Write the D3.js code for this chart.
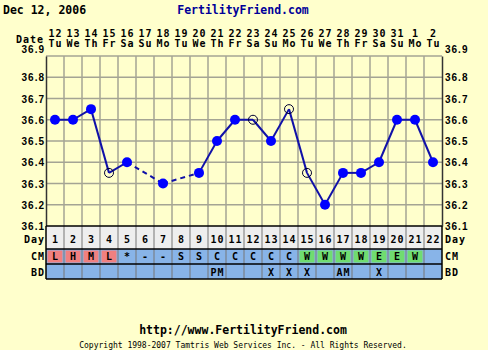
<!DOCTYPE html>
<html>
<head>
<meta charset="utf-8">
<script src="https://cdn.jsdelivr.net/npm/d3@7/dist/d3.min.js"></script>
<style>
  html, body { margin: 0; padding: 0; background: #ffffcc; }
  svg { display: block; font-family: "DejaVu Sans Mono", monospace; font-weight: bold; }
  .px { font-size: 10px; letter-spacing: 1px; }
</style>
</head>
<body>
<div id="chart"></div>
<script>
var days = d3.range(1, 23);
var dateNums = [12, 13, 14, 15, 16, 17, 18, 19, 20, 21, 22, 23, 24, 25, 26, 27, 28, 29, 30, 31, 1, 2];
var weekDays = ["Tu", "We", "Th", "Fr", "Sa", "Su", "Mo", "Tu", "We", "Th", "Fr", "Sa", "Su", "Mo", "Tu", "We", "Th", "Fr", "Sa", "Su", "Mo", "Tu"];
var temps = [36.6, 36.6, 36.65, 36.35, 36.4, null, 36.3, null, 36.35, 36.5, 36.6, 36.6, 36.5, 36.65, 36.35, 36.2, 36.35, 36.35, 36.4, 36.6, 36.6, 36.4];
var discarded = [4, 12, 14, 15];
var cm = ["L", "H", "M", "L", "*", "-", "-", "S", "S", "C", "C", "C", "C", "C", "W", "W", "W", "W", "E", "E", "W", ""];
var bd = ["", "", "", "", "", "", "", "", "", "PM", "", "", "X", "X", "X", "", "AM", "", "X", "", "", ""];
var yTicks = [36.1, 36.2, 36.3, 36.4, 36.5, 36.6, 36.7, 36.8, 36.9];

var W = 488, H = 350;
var plotLeft = 46, plotRight = 442, plotTop = 56, plotBottom = 226;
var dayRow = [226, 249], cmRow = [249, 264], bdRow = [264, 279];

var svg = d3.select("#chart").append("svg")
  .attr("width", W)
  .attr("height", H);

svg.append("rect").attr("width", W).attr("height", H).attr("fill", "#ffffcc");

var x = d3.scaleBand().domain(days).range([plotLeft, plotRight]).paddingInner(0).paddingOuter(0);
var bw = x.bandwidth();
var cx = function (d) { return x(d) + bw / 2 + 0.5; }; // +0.5 offsets trailing letter-spacing
var y = d3.scaleLinear().domain([36.1, 36.9]).range([plotBottom, plotTop]);

// title
svg.append("text").attr("x", 3).attr("y", 14).attr("font-size", 11.5).attr("fill", "#000")
  .text("Dec 12, 2006");
svg.append("text").attr("x", 243).attr("y", 14).attr("font-size", 11.5).attr("fill", "#000099")
  .attr("text-anchor", "middle").text("FertilityFriend.com");

// header dates
svg.append("text").attr("class", "px").attr("x", 44).attr("y", 43).attr("text-anchor", "end").text("Date");
var head = svg.append("g").attr("class", "px").attr("text-anchor", "middle");
head.selectAll(".dn").data(days).enter().append("text")
  .attr("x", cx).attr("y", 37)
  .text(function (d, i) { return dateNums[i]; });
head.selectAll(".wd").data(days).enter().append("text")
  .attr("x", cx).attr("y", 46.5)
  .text(function (d, i) { return weekDays[i]; });

// grid
var grid = svg.append("g").attr("stroke", "#a4a494").attr("stroke-width", 1.5);
grid.selectAll(".h").data(yTicks.slice(1)).enter().append("line")
  .attr("x1", plotLeft).attr("x2", plotRight)
  .attr("y1", function (d) { return y(d); }).attr("y2", function (d) { return y(d); });
grid.selectAll(".v").data(days.slice(1)).enter().append("line")
  .attr("x1", function (d) { return x(d); }).attr("x2", function (d) { return x(d); })
  .attr("y1", plotTop).attr("y2", plotBottom);

// axes
var yAxisL = d3.axisLeft(y).tickValues(yTicks).tickSize(0).tickPadding(2).tickFormat(d3.format(".1f"));
var yAxisR = d3.axisRight(y).tickValues(yTicks).tickSize(0).tickPadding(3).tickFormat(d3.format(".1f"));
var gl = svg.append("g").attr("transform", "translate(" + plotLeft + ",0)").call(yAxisL);
var gr = svg.append("g").attr("transform", "translate(" + plotRight + ",0)").call(yAxisR);
[gl, gr].forEach(function (g) {
  g.select(".domain").attr("stroke", "#333").attr("stroke-width", 1.5);
  g.selectAll("text").attr("class", "px").attr("font-size", null).attr("font-family", null)
    .attr("fill", "#000").attr("dy", function (d) { return d === 36.9 ? "-0.4em" : "0.35em"; });
});
gl.selectAll("text").attr("x", -1);

// table rows
var table = svg.append("g");
table.append("rect").attr("x", plotLeft).attr("y", dayRow[0]).attr("width", plotRight - plotLeft).attr("height", dayRow[1] - dayRow[0]).attr("fill", "#eeeeee");
table.append("rect").attr("x", plotLeft).attr("y", cmRow[0]).attr("width", plotRight - plotLeft).attr("height", bdRow[1] - cmRow[0]).attr("fill", "#88b4e8");

var cmColor = function (c, i) {
  if (i < 4) return "#f08080";
  if (c === "W" || c === "E") return "#70dc70";
  return null;
};
table.selectAll(".cmc").data(days.filter(function (d, i) { return cmColor(cm[i], i); })).enter().append("rect")
  .attr("x", function (d) { return x(d) + 1.5; })
  .attr("y", cmRow[0] + 1.5)
  .attr("width", bw - 3).attr("height", cmRow[1] - cmRow[0] - 3)
  .attr("fill", function (d) { return cmColor(cm[d - 1], d - 1); });

table.selectAll(".tv").data(days.slice(1)).enter().append("line")
  .attr("x1", function (d) { return x(d); }).attr("x2", function (d) { return x(d); })
  .attr("y1", dayRow[0]).attr("y2", bdRow[1])
  .attr("stroke", "#777").attr("stroke-width", 1);
table.selectAll(".th").data([dayRow[0], cmRow[0], bdRow[0], bdRow[1]]).enter().append("line")
  .attr("x1", plotLeft).attr("x2", plotRight)
  .attr("y1", function (d) { return d; }).attr("y2", function (d) { return d; })
  .attr("stroke", "#000").attr("stroke-width", 1.5);
table.append("line").attr("x1", plotLeft).attr("x2", plotLeft).attr("y1", dayRow[0]).attr("y2", bdRow[1]).attr("stroke", "#000").attr("stroke-width", 1.5);
table.append("line").attr("x1", plotRight).attr("x2", plotRight).attr("y1", dayRow[0]).attr("y2", bdRow[1]).attr("stroke", "#000").attr("stroke-width", 1.5);

var rowText = table.append("g").attr("class", "px").attr("text-anchor", "middle");
rowText.selectAll(".dy").data(days).enter().append("text")
  .attr("x", cx).attr("y", 243).text(function (d) { return d; });
rowText.selectAll(".cm").data(days).enter().append("text")
  .attr("x", cx).attr("y", 260).text(function (d, i) { return cm[i]; });
rowText.selectAll(".bd").data(days).enter().append("text")
  .attr("x", cx).attr("y", 275.5).text(function (d, i) { return bd[i]; });

var rowLabels = [["Day", 243], ["CM", 260], ["BD", 275.5]];
table.selectAll(".rl").data(rowLabels).enter().append("text")
  .attr("class", "px")
  .attr("x", 45).attr("y", function (d) { return d[1]; })
  .attr("text-anchor", "end").text(function (d) { return d[0]; });
table.selectAll(".rr").data(rowLabels).enter().append("text")
  .attr("class", "px")
  .attr("x", 445).attr("y", function (d) { return d[1]; })
  .text(function (d) { return d[0]; });

// temperature line
var pts = days.map(function (d, i) { return { day: d, t: temps[i], open: discarded.indexOf(d) >= 0 }; })
  .filter(function (p) { return p.t !== null; });
var segs = [];
for (var i = 1; i < pts.length; i++) {
  segs.push({ a: pts[i - 1], b: pts[i], gap: pts[i].day - pts[i - 1].day > 1 });
}
var lx = function (p) { return x(p.day) + bw / 2; };
var line = d3.line().x(lx).y(function (p) { return y(p.t); });
svg.append("g").selectAll("path").data(segs).enter().append("path")
  .attr("d", function (s) { return line([s.a, s.b]); })
  .attr("fill", "none")
  .attr("stroke", "#1010a8")
  .attr("stroke-width", 2)
  .attr("stroke-dasharray", function (s) { return s.gap ? "5,4" : null; });

svg.append("g").selectAll("circle").data(pts).enter().append("circle")
  .attr("cx", lx)
  .attr("cy", function (p) { return y(p.t); })
  .attr("r", function (p) { return p.open ? 4.5 : 5; })
  .attr("fill", function (p) { return p.open ? "none" : "#0000ff"; })
  .attr("stroke", function (p) { return p.open ? "#000033" : "none"; })
  .attr("stroke-width", 1);

// footer
svg.append("text").attr("x", 243).attr("y", 334).attr("font-size", 11.5).attr("text-anchor", "middle")
  .text("http://www.FertilityFriend.com");
svg.append("text").attr("x", 243).attr("y", 348).attr("font-size", 8).attr("font-weight", "normal").attr("text-anchor", "middle")
  .text("Copyright 1998-2007 Tamtris Web Services Inc. - All Rights Reserved.");
</script>
</body>
</html>
